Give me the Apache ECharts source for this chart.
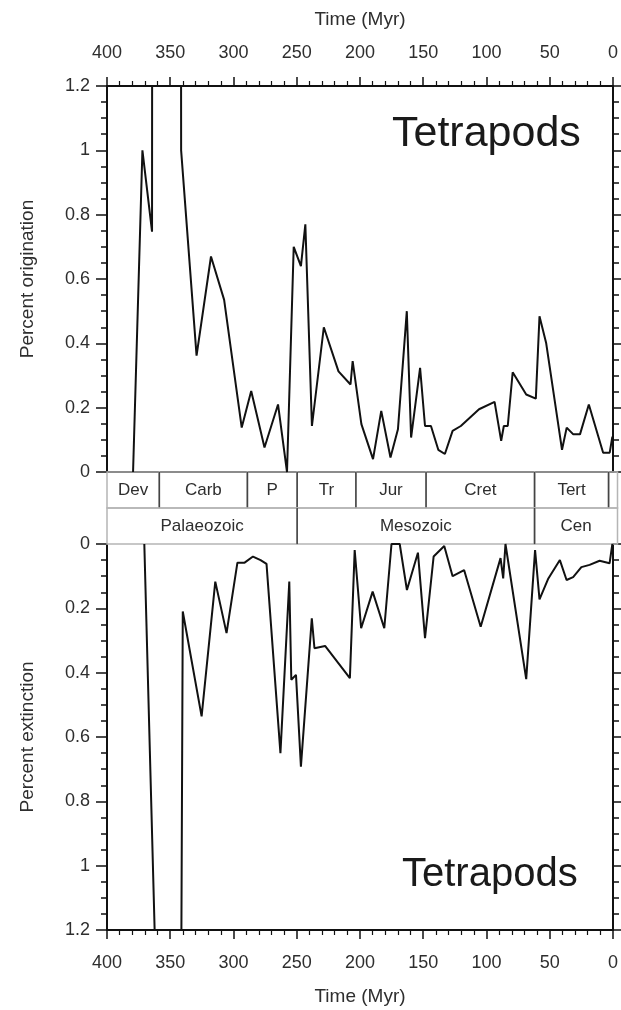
<!DOCTYPE html>
<html>
<head>
<meta charset="utf-8">
<script src="https://cdn.jsdelivr.net/npm/echarts@6/dist/echarts.min.js"></script>
<style>
  html, body { margin: 0; padding: 0; background: #fff; }
  #main { width: 621px; height: 1010px; }
</style>
</head>
<body>
<div id="main"></div>
<script>
// time in Myr before present
var origTime = [379.4, 372, 364.4, 364.3, 341.5, 341.4, 329.2, 317.8, 307.4, 293.5, 286, 275.5, 264.8, 257.7,
  252.4, 246.7, 243.2, 238, 228.6, 217, 207.5, 205.8, 198.9, 189.7, 183.2, 175.9, 170, 163, 159.6, 152.5,
  148.6, 143.9, 138.1, 132.9, 126.8, 120.3, 105.9, 93.6, 88.4, 86.3, 83.2, 79.3, 68.6, 61, 58.1, 52.8,
  40.3, 36.6, 31.4, 26.1, 19.1, 7.8, 2.6, 0.5];
var origValue = [0, 1.0, 0.747, 1.5, 1.5, 1.0, 0.362, 0.67, 0.535, 0.138, 0.252, 0.076, 0.21, 0,
  0.70, 0.64, 0.77, 0.143, 0.45, 0.313, 0.272, 0.345, 0.149, 0.04, 0.19, 0.045, 0.133, 0.50, 0.107, 0.324,
  0.143, 0.143, 0.069, 0.056, 0.128, 0.143, 0.195, 0.218, 0.097, 0.143, 0.143, 0.31, 0.241, 0.228, 0.484, 0.40,
  0.069, 0.138, 0.117, 0.117, 0.21, 0.06, 0.06, 0.11];

var extTime = [370.5, 362, 341.5, 340.1, 325.2, 314.4, 305.5, 296.9, 291.2, 284.6, 278.6, 273.9, 262.9,
  255.9, 254.3, 250.6, 246.7, 238.1, 236, 227.6, 208, 204.2, 199.1, 190, 180.8, 175.1, 168.6, 162.9, 154.2,
  148.6, 141.8, 133.4, 126.8, 117.7, 104.6, 88.9, 86.8, 85, 68.6, 61.6, 58.1, 51.1, 42, 36.7, 31.5, 25,
  18.5, 10.6, 2.7, 0.5];
var extValue = [0, 1.25, 1.5, 0.21, 0.536, 0.117, 0.277, 0.058, 0.058, 0.039, 0.05, 0.062, 0.65,
  0.117, 0.422, 0.407, 0.692, 0.231, 0.324, 0.317, 0.417, 0.019, 0.262, 0.148, 0.262, 0, 0, 0.143, 0.027,
  0.293, 0.039, 0.006, 0.1, 0.081, 0.257, 0.044, 0.107, 0, 0.42, 0.019, 0.172, 0.107, 0.05, 0.112, 0.103, 0.072,
  0.065, 0.052, 0.06, 0];

// geological time scale
var periodNames = ['Dev', 'Carb', 'P', 'Tr', 'Jur', 'Cret', 'Tert', ''];
var periodStart = [400, 359, 290, 251, 205, 150, 65, 7];
var periodEnd = [359, 290, 251, 205, 150, 65, 7, 0];
var eraNames = ['Palaeozoic', 'Mesozoic', 'Cen'];
var eraStart = [400, 251, 65];
var eraEnd = [251, 65, 0];

var timeTicks = [0, 400, 50];   // min, max, interval
var rateTicks = [0, 1.2, 0.2];

function pairs(xs, ys) {
  return xs.map(function (x, i) { return [x, ys[i]]; });
}

var bands = [];
periodNames.forEach(function (n, i) { bands.push([periodStart[i], periodEnd[i], 0, n]); });
eraNames.forEach(function (n, i) { bands.push([eraStart[i], eraEnd[i], 1, n]); });

var font = 'Liberation Sans';
var txt = '#2e2e2e';

function timeAxis(grid, pos, showLabels, name) {
  return {
    type: 'value', gridIndex: grid, position: pos, inverse: true,
    min: timeTicks[0], max: timeTicks[1], interval: timeTicks[2],
    name: name, nameLocation: 'middle', nameGap: 57,
    nameTextStyle: { fontFamily: font, fontSize: 19, color: txt },
    axisLine: { show: true, onZero: false, lineStyle: { color: '#111', width: 2 } },
    axisTick: { show: showLabels, length: 9, lineStyle: { color: '#111', width: 1.5 } },
    minorTick: { show: showLabels, splitNumber: 5, length: 5, lineStyle: { color: '#111', width: 1.2 } },
    axisLabel: { show: showLabels, margin: 24, fontFamily: font, fontSize: 18, color: txt },
    splitLine: { show: false }
  };
}

function rateAxis(grid, pos, inverse, name) {
  var left = pos === 'left';
  return {
    type: 'value', gridIndex: grid, position: pos, inverse: inverse,
    min: rateTicks[0], max: rateTicks[1], interval: rateTicks[2],
    name: name, nameLocation: 'middle', nameGap: 70, nameRotate: 90,
    nameTextStyle: { fontFamily: font, fontSize: 19, color: txt },
    axisLine: { show: true, onZero: false, lineStyle: { color: '#111', width: 2 } },
    axisTick: { show: true, length: 11, lineStyle: { color: '#111', width: 1.5 } },
    minorTick: { show: true, splitNumber: 4, length: 6, lineStyle: { color: '#111', width: 1.5 } },
    axisLabel: { show: left, margin: 17, fontFamily: font, fontSize: 18, color: txt },
    splitLine: { show: false }
  };
}

var chart = echarts.init(document.getElementById('main'));
chart.setOption({
  animation: false,
  backgroundColor: '#fff',
  title: [
    { text: 'Tetrapods', left: 387, top: 108, textStyle: { fontFamily: font, fontSize: 43, fontWeight: 'normal', color: '#1a1a1a' } },
    { text: 'Tetrapods', left: 397, top: 850, textStyle: { fontFamily: font, fontSize: 40, fontWeight: 'normal', color: '#1a1a1a' } }
  ],
  grid: [
    { left: 107, right: 3.5, top: 86, height: 386 },
    { left: 107, right: 3.5, top: 472, height: 72 },
    { left: 107, right: 3.5, top: 544, height: 386 }
  ],
  xAxis: [
    timeAxis(0, 'top', true, 'Time (Myr)'),
    timeAxis(0, 'bottom', false, ''),
    { type: 'value', gridIndex: 1, inverse: true, min: 0, max: 400, show: false },
    timeAxis(2, 'bottom', true, 'Time (Myr)')
  ],
  yAxis: [
    rateAxis(0, 'left', false, 'Percent origination'),
    rateAxis(0, 'right', false, ''),
    { type: 'value', gridIndex: 1, inverse: true, min: 0, max: 2, show: false },
    rateAxis(2, 'left', true, 'Percent extinction'),
    rateAxis(2, 'right', true, '')
  ],
  series: [
    {
      type: 'line', xAxisIndex: 0, yAxisIndex: 0, data: pairs(origTime, origValue),
      symbol: 'none', clip: true, lineStyle: { color: '#111', width: 2 }
    },
    {
      type: 'line', xAxisIndex: 3, yAxisIndex: 3, data: pairs(extTime, extValue),
      symbol: 'none', clip: true, lineStyle: { color: '#111', width: 2 }
    },
    {
      type: 'custom', xAxisIndex: 2, yAxisIndex: 2, data: bands,
      renderItem: function (params, api) {
        var b = bands[params.dataIndex];
        var p0 = api.coord([b[0], b[2]]);
        var p1 = api.coord([b[1], b[2] + 1]);
        var kids = [
          { type: 'rect', shape: { x: p0[0], y: p0[1], width: p1[0] - p0[0], height: p1[1] - p0[1] },
            style: { fill: 'none', stroke: '#b5b5b5', lineWidth: 1.5 } },
          { type: 'text', style: { text: b[3], x: (p0[0] + p1[0]) / 2, y: (p0[1] + p1[1]) / 2,
            align: 'center', verticalAlign: 'middle', fontFamily: font, fontSize: 17, fill: txt } }
        ];
        if (b[0] !== 400) {
          kids.push({ type: 'line', shape: { x1: p0[0], y1: p0[1], x2: p0[0], y2: p1[1] },
            style: { stroke: '#444', lineWidth: 1.5 } });
        }
        return { type: 'group', children: kids };
      }
    }
  ]
});
</script>
</body>
</html>
